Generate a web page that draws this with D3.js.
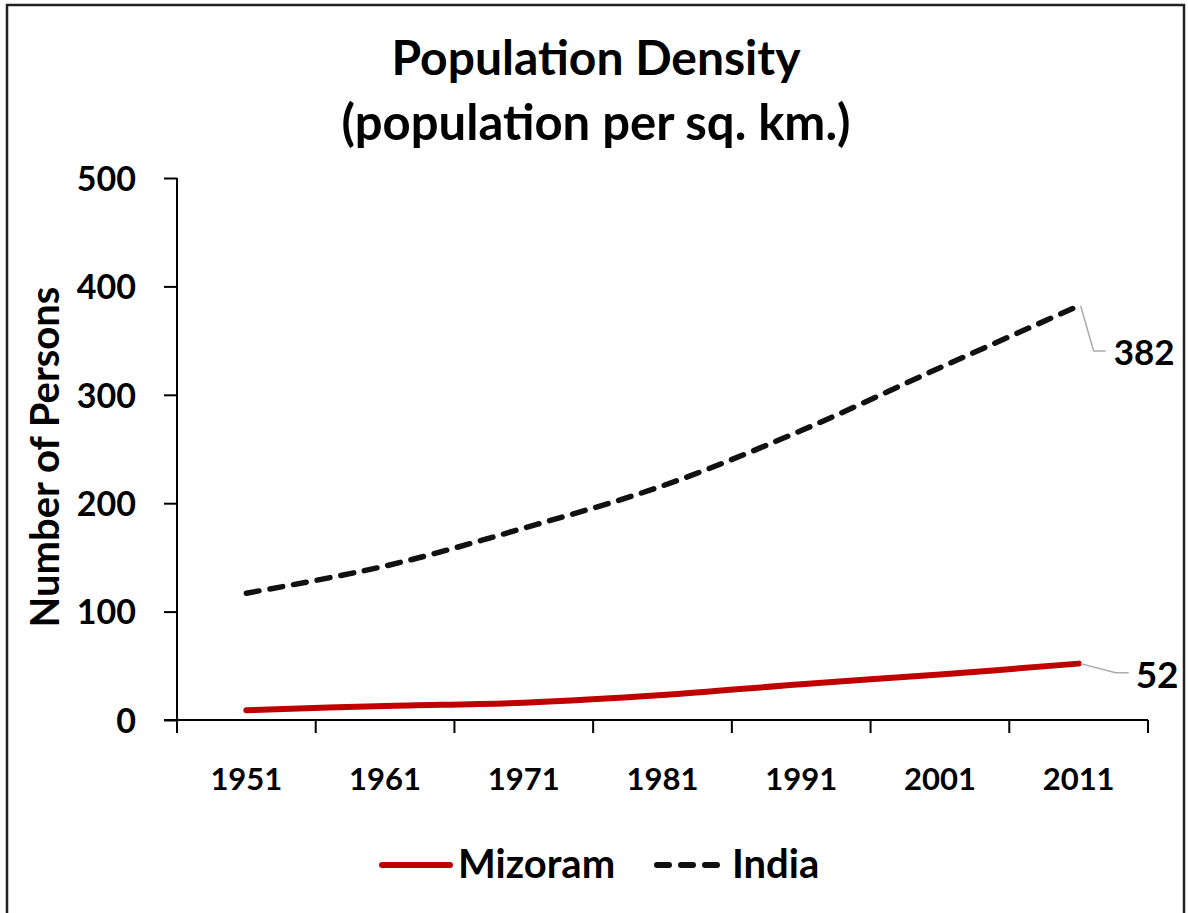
<!DOCTYPE html>
<html>
<head>
<meta charset="utf-8">
<script src="https://cdn.jsdelivr.net/npm/d3@7"></script>
<style>
  body { margin: 0; background: #fff; }
  text { font-family: Lato, "Open Sans", sans-serif; font-weight: bold; fill: #000; }
</style>
</head>
<body>
<svg width="1188" height="913"></svg>
<script>
var years = ["1951", "1961", "1971", "1981", "1991", "2001", "2011"];
var mizoram = [9, 13, 16, 23, 33, 42, 52];
var india = [117, 142, 177, 216, 267, 325, 382];
var yTicks = [0, 100, 200, 300, 400, 500];

var svg = d3.select("svg"),
    width = +svg.attr("width"),
    height = +svg.attr("height");

// plot area (don't call these top/left: window.top is read-only)
var pLeft = 177, pRight = 1148, pTop = 178, pBottom = 720;

// chart frame
svg.append("rect")
    .attr("x", 7).attr("y", 5)
    .attr("width", 1177).attr("height", 1000)
    .attr("fill", "none")
    .attr("stroke", "#222")
    .attr("stroke-width", 2.5);

var x = d3.scaleBand().domain(years).range([pLeft, pRight]).padding(0);
var y = d3.scaleLinear().domain([0, 500]).range([pBottom, pTop]);

function px(d) { return x(d) + x.bandwidth() / 2; }

// title
svg.append("text")
    .attr("x", 596).attr("y", 75)
    .attr("text-anchor", "middle")
    .style("font-size", "48px")
    .text("Population Density");
svg.append("text")
    .attr("x", 596).attr("y", 140)
    .attr("text-anchor", "middle")
    .style("font-size", "49px")
    .text("(population per sq. km.)");

// y axis
var yAxis = svg.append("g")
    .attr("transform", "translate(" + pLeft + ",0)")
    .call(d3.axisLeft(y).tickValues(yTicks).tickSize(13).tickPadding(28));
yAxis.selectAll("path, line").attr("stroke", "#000").attr("stroke-width", 2);
yAxis.select(".domain").attr("d", "M0," + pTop + "V" + pBottom);
yAxis.selectAll("text")
    .attr("font-family", null).attr("font-size", null)
    .style("font-size", "34px")
    .attr("dy", "0.36em");

// x axis, ticks on the category boundaries
var bounds = years.map(function(d) { return x(d); }).concat([pRight]);
var xAxis = svg.append("g").attr("transform", "translate(0," + pBottom + ")");
xAxis.append("line")
    .attr("x1", pLeft - 13).attr("x2", pRight)
    .attr("stroke", "#000").attr("stroke-width", 2);
xAxis.selectAll(".bt").data(bounds).enter().append("line")
    .attr("x1", function(d) { return d; }).attr("x2", function(d) { return d; })
    .attr("y1", 0).attr("y2", 13)
    .attr("stroke", "#000").attr("stroke-width", 2);
xAxis.selectAll(".lbl").data(years).enter().append("text")
    .attr("x", px).attr("y", 70)
    .attr("text-anchor", "middle")
    .style("font-size", "31px")
    .text(function(d) { return d; });

// y axis title
svg.append("text")
    .attr("transform", "translate(59," + ((pTop + pBottom) / 2 + 8) + ") rotate(-90)")
    .attr("text-anchor", "middle")
    .style("font-size", "40px")
    .text("Number of Persons");

var line = d3.line()
    .x(function(d, i) { return px(years[i]); })
    .y(function(d) { return y(d); })
    .curve(d3.curveCatmullRom);

svg.append("path")
    .datum(india)
    .attr("d", line)
    .attr("fill", "none")
    .attr("stroke", "#111")
    .attr("stroke-width", 5.5)
    .attr("stroke-dasharray", "13,11")
    .attr("stroke-linecap", "round");

svg.append("path")
    .datum(mizoram)
    .attr("d", line)
    .attr("fill", "none")
    .attr("stroke", "#C00000")
    .attr("stroke-width", 6)
    .attr("stroke-linecap", "round");

// end labels with leader lines
var last = years[years.length - 1];
var ex = px(last);
var iy = y(india[india.length - 1]), my = y(mizoram[mizoram.length - 1]);
svg.append("path")
    .attr("d", "M" + (ex + 2) + "," + iy + "L" + (ex + 15) + "," + (iy + 45) + "H" + (ex + 27))
    .attr("fill", "none").attr("stroke", "#aaa").attr("stroke-width", 1.5);
svg.append("text")
    .attr("x", ex + 35).attr("y", iy + 59)
    .style("font-size", "35px")
    .text(india[india.length - 1]);
svg.append("path")
    .attr("d", "M" + (ex + 2) + "," + my + "L" + (ex + 37) + "," + (my + 9) + "H" + (ex + 50))
    .attr("fill", "none").attr("stroke", "#aaa").attr("stroke-width", 1.5);
svg.append("text")
    .attr("x", ex + 57).attr("y", my + 24)
    .style("font-size", "37px")
    .text(mizoram[mizoram.length - 1]);

// legend
var legend = svg.append("g").attr("transform", "translate(0,865)");
legend.append("line")
    .attr("x1", 382).attr("x2", 450)
    .attr("stroke", "#C00000").attr("stroke-width", 6).attr("stroke-linecap", "round");
legend.append("text")
    .attr("x", 458).attr("y", 13)
    .style("font-size", "40px")
    .text("Mizoram");
legend.append("line")
    .attr("x1", 657).attr("x2", 718)
    .attr("stroke", "#111").attr("stroke-width", 6)
    .attr("stroke-dasharray", "12,12").attr("stroke-linecap", "round");
legend.append("text")
    .attr("x", 732).attr("y", 13)
    .style("font-size", "40px")
    .text("India");
</script>
</body>
</html>
